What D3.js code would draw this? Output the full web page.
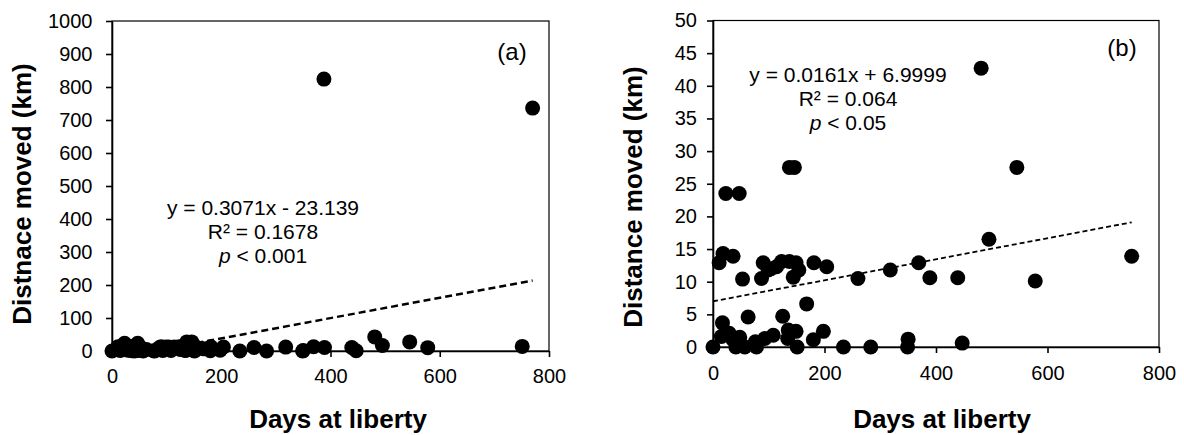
<!DOCTYPE html>
<html><head><meta charset="utf-8">
<script src="https://cdn.jsdelivr.net/npm/d3@7"></script>
<style>
body{margin:0;background:#fff}
text{font-family:"Liberation Sans",Arial,sans-serif;fill:#000}
</style></head>
<body><svg id="c" width="1184" height="435"></svg>
<script>
// ---- data ----
const daysB = [0,11,18,36,17,15,29,36,48,41,57,78,76,93,108,63,53,23,47,90,87,99,104,114,123,137,149,144,154,181,204,125,135,149,134,151,180,198,168,137,146,234,260,283,318,349,350,369,389,439,447,481,495,545,578,751];
const distB = [0,12.9,14.3,13.9,3.7,1.6,2.1,1.1,1.5,0,0,0,0.8,1.3,1.8,4.6,10.4,23.5,23.5,12.9,10.5,11.8,12.0,12.3,13.1,13.1,12.9,10.7,11.8,12.9,12.3,4.7,2.6,2.4,1.3,0,1.1,2.4,6.6,27.5,27.5,0,10.5,0,11.8,0,1.2,12.9,10.6,10.6,0.6,42.7,16.5,27.5,10.1,13.9];
const daysOut = [388,770];
const distOut = [824,736];
const daysA = daysB.concat(daysOut);
const distA = distB.concat(distOut);
const xTicks = [0,200,400,600,800];
const yTicksA = [0,100,200,300,400,500,600,700,800,900,1000];
const yTicksB = [0,5,10,15,20,25,30,35,40,45,50];
const fitA = {slope:0.3071, intercept:-23.139};
const fitB = {slope:0.0161, intercept:6.9999};
const eqA = ["y = 0.3071x - 23.139","R² = 0.1678","< 0.001"];
const eqB = ["y = 0.0161x + 6.9999","R² = 0.064","< 0.05"];

const svg = d3.select("#c");
svg.append("rect").attr("width",1184).attr("height",435).attr("fill","#fff");

function panel(o){
  const g = svg.append("g");
  const x = d3.scaleLinear().domain([0,800]).range([o.x0,o.x1]);
  const y = d3.scaleLinear().domain([0,o.ymax]).range([o.y0,o.y1]);
  // frame
  g.append("rect").attr("x",o.x0).attr("y",o.y1).attr("width",o.x1-o.x0).attr("height",o.y0-o.y1)
    .attr("fill","none").attr("stroke","#000").attr("stroke-width",1.2);
  // trend line
  const cp = "clip"+o.id;
  svg.append("clipPath").attr("id",cp).append("rect").attr("x",o.x0).attr("y",o.y1).attr("width",o.x1-o.x0).attr("height",o.y0-o.y1);
  const xs = o.days;
  let xa = d3.min(xs), xb = d3.max(xs);
  if (o.fit.intercept < 0) xa = Math.max(xa, -o.fit.intercept/o.fit.slope);
  g.append("line").attr("clip-path","url(#"+cp+")")
    .attr("x1",x(xa)).attr("y1",y(o.fit.slope*xa+o.fit.intercept))
    .attr("x2",x(xb)).attr("y2",y(o.fit.slope*xb+o.fit.intercept))
    .attr("stroke","#000").attr("stroke-width",o.lw).attr("stroke-dasharray",o.dash);
  // axes
  const ax = g.append("g").attr("transform","translate(0,"+o.y0+")")
    .call(d3.axisBottom(x).tickValues(xTicks).tickFormat(d3.format("d")).tickSize(6).tickSizeOuter(0).tickPadding(o.xpad));
  const ay = g.append("g").attr("transform","translate("+o.x0+",0)")
    .call(d3.axisLeft(y).tickValues(o.yTicks).tickFormat(d3.format("d")).tickSize(6).tickSizeOuter(0).tickPadding(o.ypad));
  [ax,ay].forEach(a=>{
    a.selectAll("path,line").attr("stroke","#000").attr("stroke-width",1.6);
    a.selectAll("text").attr("font-size",20).attr("font-family","Liberation Sans, Arial, sans-serif");
  });
  // points
  g.selectAll("circle.pt").data(o.days.map((d,i)=>[d,o.dist[i]])).enter().append("circle")
    .attr("cx",d=>x(d[0])).attr("cy",d=>y(d[1])).attr("r",7.5).attr("fill","#000");
  // equation
  const eq = g.append("text").attr("text-anchor","middle").attr("font-size",21);
  eq.append("tspan").attr("x",o.eqx).attr("y",o.eqy).text(o.eq[0]);
  eq.append("tspan").attr("x",o.eqx).attr("y",o.eqy+24).text(o.eq[1]);
  const l3 = eq.append("tspan").attr("x",o.eqx).attr("y",o.eqy+48);
  l3.append("tspan").attr("font-style","italic").text("p");
  l3.append("tspan").text(" "+o.eq[2]);
  // panel label
  g.append("text").attr("x",o.lx).attr("y",o.ly).attr("text-anchor","middle").attr("font-size",24).text(o.label);
  // axis titles
  g.append("text").attr("x",o.xtx).attr("y",428).attr("text-anchor","middle")
    .attr("font-size",26).attr("font-weight","bold").text("Days at liberty");
  g.append("text").attr("transform","translate("+o.ytx+","+o.yty+") rotate(-90)").attr("text-anchor","middle")
    .attr("font-size",26).attr("font-weight","bold").text(o.ytitle);
}

panel({id:"a",x0:112,x1:549,y0:351,y1:21,ymax:1000,yTicks:yTicksA,days:daysA,dist:distA,fit:fitA,
  lw:2.5,dash:"7,4",xpad:12,ypad:13.5,eq:eqA,eqx:263,eqy:215,label:"(a)",lx:512,ly:60,
  xtx:338,ytx:31,yty:194,ytitle:"Distnace moved (km)"});
panel({id:"b",x0:713,x1:1159,y0:347,y1:20.5,ymax:50,yTicks:yTicksB,days:daysB,dist:distB,fit:fitB,
  lw:1.8,dash:"5,3",xpad:13,ypad:10,eq:eqB,eqx:848,eqy:82,label:"(b)",lx:1122,ly:56,
  xtx:942,ytx:641.5,yty:197,ytitle:"Distance moved (km)"});
</script></body></html>
